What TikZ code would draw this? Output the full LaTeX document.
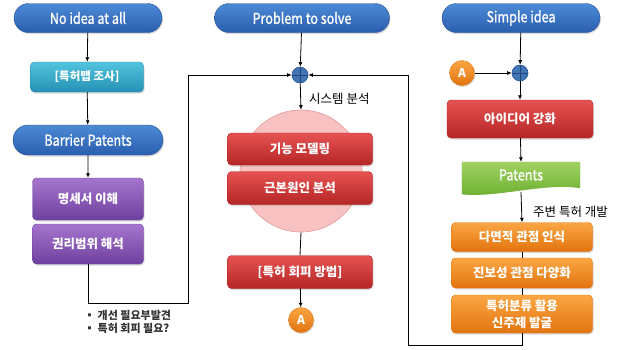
\documentclass[tikz,border=0pt]{standalone}
\usepackage{fontspec}
\setmainfont{Noto Sans CJK KR}
\newfontfamily\condf{Noto Sans CJK KR}[FakeStretch=0.84,FakeBold=1.2]
\usetikzlibrary{shapes.misc,arrows.meta,shadows,calc}
\definecolor{blueT}{HTML}{4C8AD6}
\definecolor{blueB}{HTML}{2A5EAE}
\definecolor{blueD}{HTML}{2A5496}
\definecolor{tealT}{HTML}{52C4DE}
\definecolor{tealB}{HTML}{2590B4}
\definecolor{purT}{HTML}{A676CE}
\definecolor{purB}{HTML}{6E409E}
\definecolor{redT}{HTML}{E65252}
\definecolor{redB}{HTML}{B52626}
\definecolor{oraT}{HTML}{FAA644}
\definecolor{oraB}{HTML}{E2740E}
\definecolor{grnT}{HTML}{A0D262}
\definecolor{grnB}{HTML}{6AAE2E}
\definecolor{pinkF}{HTML}{F8C2C2}
\definecolor{pinkD}{HTML}{E29A9A}
\definecolor{txtD}{HTML}{333333}
\tikzset{
  sh/.style={drop shadow={shadow xshift=1pt,shadow yshift=-1.5pt,opacity=0.3}},
  arr/.style={-{Latex[length=4.5pt,width=4pt]}, line width=0.8pt, black},
  ln/.style={line width=0.8pt, black},
  stad/.style={rounded rectangle, draw=blueD, top color=blueT, bottom color=blueB, text=white,
    font=\condf\fontsize{15}{15}\selectfont, minimum height=29pt, inner sep=0pt, sh},
  boxb/.style={rounded corners=4pt, text=white, font=\bfseries\fontsize{12.5}{17}\selectfont,
    inner sep=0pt, align=center, sh},
  tealbox/.style={boxb, top color=tealT, bottom color=tealB, draw=tealB},
  purbox/.style={boxb, top color=purT, bottom color=purB, draw=purB},
  redbox/.style={boxb, top color=redT, bottom color=redB, draw=redB},
  orabox/.style={boxb, top color=oraT, bottom color=oraB, draw=oraB},
  plusc/.style={circle, minimum size=16pt, inner sep=0pt, fill=blueT!85!black, draw=blueD, line width=0.6pt,
    path picture={\draw[blueD!80!black, line width=0.7pt]
      (path picture bounding box.north) -- (path picture bounding box.south)
      (path picture bounding box.west) -- (path picture bounding box.east);}},
  acirc/.style={circle, minimum size=25pt, inner sep=0pt, top color=oraT, bottom color=oraB, draw=oraB,
    text=white, font=\bfseries\fontsize{12}{12}\selectfont, sh},
  lbl/.style={font=\fontsize{12.5}{14}\selectfont, text=black, inner sep=0pt},
}
\begin{document}
\begin{tikzpicture}[x=1pt,y=-1pt]
\useasboundingbox (0,0) rectangle (621,349);
% pink circle behind
\node[circle, minimum size=122pt, inner sep=0pt, fill=pinkF, draw=pinkD, line width=0.6pt] (pc) at (301,171) {};
% left column
\node[stad, minimum width=148pt] (t1) at (88,18) {No idea at all};
\node[tealbox, minimum width=113pt, minimum height=30pt, font=\bfseries\fontsize{11.5}{15}\selectfont] (l1) at (87,77) {[특허맵 조사]};
\node[stad, minimum width=150pt, minimum height=30pt] (t1b) at (88,140) {Barrier Patents};
\node[purbox, minimum width=111pt, minimum height=42pt] (l3) at (88,199) {명세서 이해};
\node[purbox, minimum width=111pt, minimum height=40pt] (l4) at (88,244) {권리범위 해석};
\node[anchor=west, align=left, font=\bfseries\fontsize{11}{13}\selectfont, text=txtD, inner sep=0pt] (bul) at (84,322) {▪ 개선 필요부발견\\▪ 특허 회피 필요?};
% middle column
\node[stad, minimum width=175pt] (t2) at (302,18) {Problem to solve};
\node[plusc] (p1) at (300,75) {};
\node[redbox, minimum width=145pt, minimum height=32pt] (m1) at (300,149) {기능 모델링};
\node[redbox, minimum width=145pt, minimum height=33pt] (m2) at (300,188) {근본원인 분석};
\node[redbox, minimum width=145pt, minimum height=33pt] (m3) at (300,272) {[특허 회피 방법]};
\node[acirc] (a1) at (301,320) {A};
\node[lbl, anchor=west] (sys) at (309,99) {시스템 분석};
% right column
\node[stad, minimum width=158pt] (t3) at (521,18) {Simple idea};
\node[plusc] (p2) at (520,73) {};
\node[acirc] (a2) at (462,73) {A};
\node[redbox, minimum width=146pt, minimum height=38pt] (r1) at (520,119) {아이디어 강화};
\node[minimum width=118pt, minimum height=28pt, inner sep=0pt] (pat) at (521,176) {};
\fill[black, opacity=0.25, xshift=1pt, yshift=-1.5pt]
  (pat.north west) -- (pat.north east) -- ($(pat.south east)+(0,-2)$)
  .. controls ($(pat.south)+(25,-8)$) and ($(pat.south)+(-25,8)$) .. ($(pat.south west)+(0,4)$) -- cycle;
\shade[top color=grnT, bottom color=grnB]
  (pat.north west) -- (pat.north east) -- ($(pat.south east)+(0,-2)$)
  .. controls ($(pat.south)+(25,-8)$) and ($(pat.south)+(-25,8)$) .. ($(pat.south west)+(0,4)$) -- cycle;
\node[text=white, font=\condf\fontsize{15}{15}\selectfont, inner sep=0pt] (patt) at (521,175) {Patents};
\node[lbl, anchor=west] (dev) at (533,212) {주변 특허 개발};
\node[orabox, minimum width=141pt, minimum height=29pt] (o1) at (522,237) {다면적 관점 인식};
\node[orabox, minimum width=141pt, minimum height=30pt] (o2) at (522,273) {진보성 관점 다양화};
\node[orabox, minimum width=141pt, minimum height=38pt] (o3) at (522,314) {특허분류 활용\\신주제 발굴};
% loop corner coordinates
\coordinate (lc) at (188,303);
\coordinate (rc) at (408,345);
% connectors
\draw[arr] (t1) -- (l1);
\draw[arr] (l1) -- (t1b);
\draw[arr] (t1b) -- (l3);
\draw[arr] (l4.south) |- (lc) |- (p1.west);
\draw[arr] (t2) -- (p1);
\draw[arr] (p1) -- (pc.north);
\draw[ln] (pc.south) -- (m3.north);
\draw[arr] (m3) -- (a1);
\draw[arr] (t3) -- (p2);
\draw[arr] (a2) -- (p2);
\draw[arr] (p2) -- (r1);
\draw[arr] (r1) -- (pat.north);
\draw[arr] ($(pat.south)+(0,2)$) -- (o1.north);
\draw[ln] (o1) -- (o2);
\draw[ln] (o2) -- (o3);
\draw[arr] (o3.south) |- (rc) |- (p1.east);
\end{tikzpicture}
\end{document}
